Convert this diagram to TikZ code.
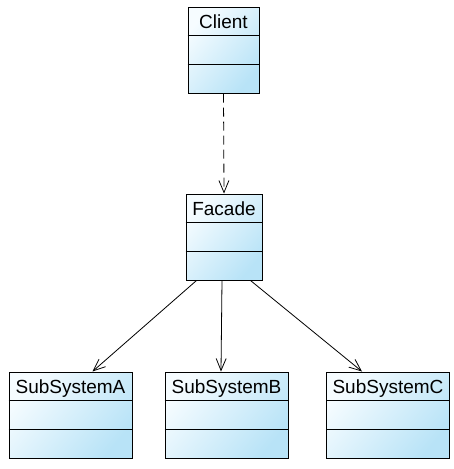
\documentclass[tikz,border=0pt]{standalone}
\usepackage{fontspec}
\setmainfont{Liberation Sans}
\usetikzlibrary{arrows.meta,calc}
\definecolor{shadeA}{HTML}{F6FCFF}
\definecolor{shadeB}{HTML}{B8E3F7}
\tikzset{
  cls/.style={draw=black, line width=1pt, shading=axis, left color=shadeA, right color=shadeB, shading angle=50, inner sep=0pt},
  lbl/.style={font=\fontsize{19}{19}\selectfont, inner sep=0pt, anchor=base},
  arr/.style={line width=0.8pt, -{Straight Barb[length=12pt,width=10pt,line width=0.8pt]}},
  dsh/.style={dash pattern=on 9pt off 5pt}
}
\begin{document}
\begin{tikzpicture}[x=1pt,y=-1pt]
\useasboundingbox (0,0) rectangle (454,469);
\fill[white] (0,0) rectangle (454,469);
% classes
\node[cls, minimum width=71pt, minimum height=86pt] (client) at (223.5,50) {};
\node[cls, minimum width=76pt, minimum height=86pt] (facade) at (224,237) {};
\node[cls, minimum width=123pt, minimum height=86pt] (subA) at (70.5,415) {};
\node[cls, minimum width=123pt, minimum height=86pt] (subB) at (226.5,415) {};
\node[cls, minimum width=123pt, minimum height=86pt] (subC) at (388,415) {};
% compartments
\foreach \n in {client,facade,subA,subB,subC}{
  \draw[line width=1pt] ([yshift=-29pt]\n.north west) -- ([yshift=-29pt]\n.north east);
  \draw[line width=1pt] ([yshift=-58pt]\n.north west) -- ([yshift=-58pt]\n.north east);
}
% labels
\node[lbl] (tclient) at (223.5,28) {Client};
\node[lbl] (tfacade) at (224,215) {Facade};
\node[lbl] (tsubA) at (70.5,393) {SubSystemA};
\node[lbl] (tsubB) at (226.5,393) {SubSystemB};
\node[lbl] (tsubC) at (388,393) {SubSystemC};
% connectors
\draw[arr,dsh] (client.south) -- (facade.north);
\draw[arr] ([xshift=11pt]facade.south west) -- ([xshift=84pt]subA.north west);
\draw[arr] ([xshift=-2pt]facade.south) -- ([xshift=-5.5pt]subB.north);
\draw[arr] ([xshift=-12pt]facade.south east) -- ([xshift=-26pt]subC.north);
\end{tikzpicture}
\end{document}
